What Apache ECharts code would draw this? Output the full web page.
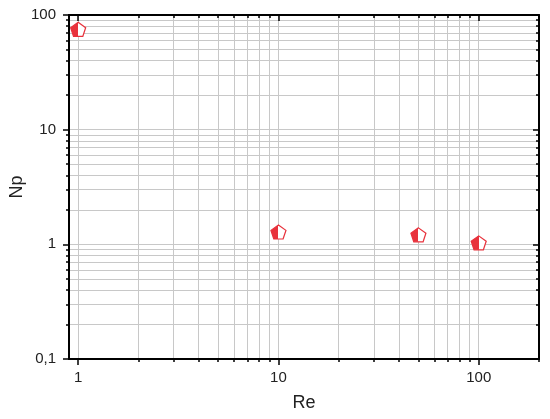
<!DOCTYPE html>
<html>
<head>
<meta charset="utf-8">
<script src="https://cdn.jsdelivr.net/npm/echarts@6/dist/echarts.min.js"></script>
<style>
  html, body { margin: 0; padding: 0; background: #fff; }
  #chart { width: 550px; height: 419px; }
</style>
</head>
<body>
<div id="chart"></div>
<script>
// Re vs Np measurements
const reValues = [1, 10, 50, 100]
const npValues = [75, 1.28, 1.21, 1.03]

// axis ticks (log scale)
const xMajorTicks = [1, 10, 100]
const xMinorTicks = [2, 3, 4, 5, 6, 7, 8, 9, 20, 30, 40, 50, 60, 70, 80, 90, 200]
const yMajorTicks = [0.1, 1, 10, 100]
const yMinorTicks = [0.2, 0.3, 0.4, 0.5, 0.6, 0.7, 0.8, 0.9, 2, 3, 4, 5, 6, 7, 8, 9, 20, 30, 40, 50, 60, 70, 80, 90]

const RED = '#e8323c'
const GRID_COLOR = '#c8c8c8'
const FONT = 'Liberation Sans, Arial, sans-serif'

const chartInstance = echarts.init(document.getElementById('chart'))

const pentagon = 'path://M0,-10 L9.51,-3.09 L5.88,8.09 L-5.88,8.09 L-9.51,-3.09 Z'

const fmt = (v) => String(v).replace('.', ',')

// builds one log axis layer (major/minor ticks, inside/outside)
const makeAxis = (dim, opts) => {
  const base = {
    type: 'log',
    logBase: 10,
    min: dim === 'x' ? 0.9 : 0.1,
    max: dim === 'x' ? 200 : 100,
    position: opts.position,
    axisLine: { show: opts.line, lineStyle: { color: '#000', width: 2 } },
    axisTick: {
      show: true,
      inside: opts.inside,
      length: opts.len,
      customValues: opts.ticks,
      lineStyle: { color: '#000', width: 1.5 },
    },
    axisLabel: { show: false },
    splitLine: { show: false },
    minorTick: { show: false },
    z: 10,
  }
  return Object.assign(base, opts.extra || {})
}

const option = {
  animation: false,
  backgroundColor: '#fff',
  grid: { left: 69, right: 11, top: 15, bottom: 60, containLabel: false, outerBoundsMode: 'none' },
  xAxis: [
    makeAxis('x', {
      position: 'bottom', line: true, inside: false, len: 6, ticks: xMajorTicks,
      extra: {
        name: 'Re',
        nameLocation: 'middle',
        nameGap: 35,
        nameMoveOverlap: false,
        nameTextStyle: { fontFamily: FONT, fontSize: 18, color: '#222' },
        axisLabel: {
          show: true,
          customValues: xMajorTicks,
          margin: 11,
          fontFamily: FONT,
          fontSize: 15,
          color: '#222',
          formatter: fmt,
        },
        splitLine: { show: true, lineStyle: { color: GRID_COLOR, width: 1 } },
      },
    }),
    makeAxis('x', {
      position: 'bottom', line: false, inside: false, len: 3, ticks: xMinorTicks,
      extra: { splitLine: { show: true, lineStyle: { color: GRID_COLOR, width: 1 } } },
    }),
    makeAxis('x', { position: 'top', line: true, inside: true, len: 6, ticks: xMajorTicks }),
    makeAxis('x', { position: 'top', line: false, inside: true, len: 3, ticks: xMinorTicks }),
  ],
  yAxis: [
    makeAxis('y', {
      position: 'left', line: true, inside: false, len: 6, ticks: yMajorTicks,
      extra: {
        name: 'Np',
        nameLocation: 'middle',
        nameGap: 43,
        nameMoveOverlap: false,
        nameTextStyle: { fontFamily: FONT, fontSize: 18, color: '#222' },
        axisLabel: {
          show: true,
          customValues: yMajorTicks,
          margin: 13,
          fontFamily: FONT,
          fontSize: 15,
          color: '#222',
          formatter: fmt,
        },
        splitLine: { show: true, lineStyle: { color: GRID_COLOR, width: 1 } },
      },
    }),
    makeAxis('y', {
      position: 'left', line: false, inside: false, len: 3, ticks: yMinorTicks,
      extra: { splitLine: { show: true, lineStyle: { color: GRID_COLOR, width: 1 } } },
    }),
    makeAxis('y', { position: 'right', line: true, inside: true, len: 6, ticks: yMajorTicks }),
    makeAxis('y', { position: 'right', line: false, inside: true, len: 3, ticks: yMinorTicks }),
  ],
  series: [
    {
      type: 'scatter',
      xAxisIndex: 0,
      yAxisIndex: 0,
      data: reValues.map((re, i) => [re, npValues[i]]),
      symbol: pentagon,
      symbolSize: [15, 14],
      itemStyle: {
        color: new echarts.graphic.LinearGradient(0, 0, 1, 0, [
          { offset: 0, color: RED },
          { offset: 0.5, color: RED },
          { offset: 0.5, color: '#fff' },
          { offset: 1, color: '#fff' },
        ]),
        borderColor: RED,
        borderWidth: 1.2,
        opacity: 1,
      },
      z: 20,
    },
  ],
}

chartInstance.setOption(option)
</script>
</body>
</html>
